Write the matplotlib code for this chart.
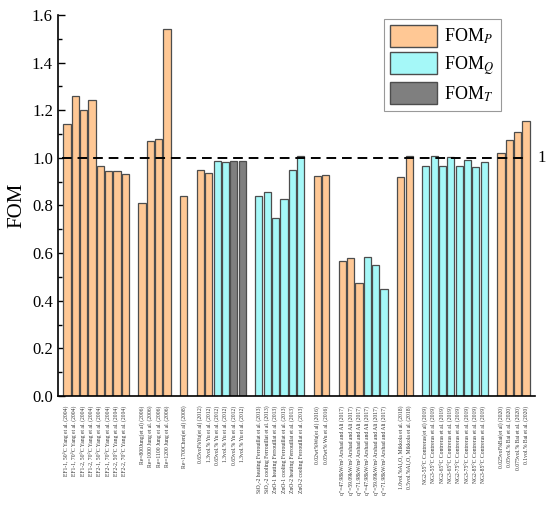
import matplotlib
matplotlib.use("Agg")
import matplotlib.pyplot as plt
from matplotlib.patches import Patch

plt.rcParams['font.family'] = ['Liberation Serif', 'DejaVu Serif']
plt.rcParams['mathtext.fontset'] = 'stix'

# group sizes (bars per study), one empty slot between groups
group_sizes = [8, 4, 1, 6, 6, 2, 6, 2, 8, 4]

labels = [
    "EF1-1, 50°C Yang et al. (2004)", "EF1-1, 70°C Yang et al. (2004)",
    "EF1-2, 50°C Yang et al. (2004)", "EF1-2, 70°C Yang et al. (2004)",
    "EF2-1, 50°C Yang et al. (2004)", "EF2-1, 70°C Yang et al. (2004)",
    "EF2-2, 50°C Yang et al. (2004)", "EF2-2, 70°C Yang et al. (2004)",
    "Re=800Jung(et al) (2006)", "Re=1000 Jung et al. (2006)",
    "Re=1100 Jung et al. (2006)", "Re=1200 Jung et al. (2006)",
    "Re~1700Chen(et al) (2008)",
    "0.65vol%Yu(et al) (2012)", "1.3vol.% Yu et al. (2012)",
    "0.65vol.% Yu et al. (2012)", "1.3vol.% Yu et al. (2012)",
    "0.65vol.% Yu et al. (2012)", "1.3vol.% Yu et al. (2012)",
    "SiO₂-2 heating Ferrouillat et al. (2013)", "SiO₂-2 cooling Ferrouillat et al. (2013)",
    "ZnO-1 heating Ferrouillat et al. (2013)", "ZnO-1 cooling Ferrouillat et al. (2013)",
    "ZnO-2 heating Ferrouillat et al. (2013)", "ZnO-2 cooling Ferrouillat et al. (2013)",
    "0.02wt%Wu(et al) (2016)", "0.05wt% Wu et al. (2016)",
    "q″=47.98kW/m² Arshad and Ali (2017)", "q″=59.09kW/m² Arshad and Ali (2017)",
    "q″=71.98kW/m² Arshad and Ali (2017)", "q″=47.98kW/m² Arshad and Ali (2017)",
    "q″=59.09kW/m² Arshad and Ali (2017)", "q″=71.98kW/m² Arshad and Ali (2017)",
    "1.0vol.%Al₂O₃ Mikkola et al. (2018)", "0.5vol.%Al₂O₃ Mikkola et al. (2018)",
    "NG2-55°C Contreras(et al) (2019)", "NG3-55°C Contreras et al. (2019)",
    "NG2-65°C Contreras et al. (2019)", "NG3-65°C Contreras et al. (2019)",
    "NG2-75°C Contreras et al. (2019)", "NG3-75°C Contreras et al. (2019)",
    "NG2-85°C Contreras et al. (2019)", "NG3-85°C Contreras et al. (2019)",
    "0.025vol%Bai(et al) (2020)", "0.05vol.% Bai et al. (2020)",
    "0.075vol.% Bai et al. (2020)", "0.1vol.% Bai et al. (2020)",
]

fom_values = [
    1.144, 1.26, 1.199, 1.241, 0.965, 0.945, 0.943, 0.930,
    0.81, 1.07, 1.08, 1.54,
    0.841,
    0.947, 0.937, 0.987, 0.981, 0.986, 0.986,
    0.838, 0.855, 0.746, 0.827, 0.947, 1.008,
    0.922, 0.929,
    0.566, 0.580, 0.476, 0.584, 0.549, 0.449,
    0.920, 1.008,
    0.966, 1.007, 0.966, 1.003, 0.965, 0.989, 0.962, 0.983,
    1.020, 1.076, 1.109, 1.153,
]

fom_type = (['P'] * 8 + ['P'] * 4 + ['P'] + ['P', 'P', 'Q', 'Q', 'T', 'T'] + ['Q'] * 6
            + ['P'] * 2 + ['P'] * 3 + ['Q'] * 3 + ['P'] * 2 + ['Q'] * 8 + ['P'] * 4)

colors = {'P': '#FFC895', 'Q': '#A5F8F8', 'T': '#7F7F7F'}
legend_labels = {'P': r'FOM$_P$', 'Q': r'FOM$_Q$', 'T': r'FOM$_T$'}

# bar positions: consecutive slots, one empty slot between groups
xpos = []
slot = 0
for n in group_sizes:
    for k in range(n):
        xpos.append(slot)
        slot += 1
    slot += 1

fig = plt.figure(figsize=(5.5, 5.13), dpi=100)
ax = fig.add_axes([0.105, 0.228, 0.868, 0.743])

ax.bar(xpos, fom_values, width=0.86, color=[colors[t] for t in fom_type],
       edgecolor='#4d4d4d', linewidth=0.9, zorder=2)

ax.axhline(1.0, xmin=0.008, xmax=0.98, color='black', linestyle=(0, (5, 3)),
           linewidth=1.4, zorder=3)
ax.text(56.35, 1.0, '1', va='center', ha='left', fontsize=12)

ax.set_xlim(-1.1, 56.1)
ax.set_ylim(0, 1.6)
ax.set_yticks([0.0, 0.2, 0.4, 0.6, 0.8, 1.0, 1.2, 1.4, 1.6])
ax.set_yticklabels(['0.0', '0.2', '0.4', '0.6', '0.8', '1.0', '1.2', '1.4', '1.6'])
ax.set_yticks([0.1, 0.3, 0.5, 0.7, 0.9, 1.1, 1.3, 1.5], minor=True)
ax.tick_params(axis='y', which='major', direction='in', length=5, width=1, labelsize=12)
ax.tick_params(axis='y', which='minor', direction='in', length=3, width=1)
ax.set_xticks(xpos)
ax.set_xticklabels(labels, rotation=90, fontsize=4.1, color='#333333')
ax.tick_params(axis='x', length=0, pad=7)

ax.spines['top'].set_visible(False)
ax.spines['right'].set_visible(False)
ax.spines['left'].set_linewidth(1.2)
ax.spines['bottom'].set_linewidth(1.2)
ax.set_ylabel('FOM', fontsize=15, labelpad=4)

handles = [Patch(facecolor=colors[t], edgecolor='#4d4d4d', linewidth=1) for t in ['P', 'Q', 'T']]
leg = ax.legend(handles, [legend_labels[t] for t in ['P', 'Q', 'T']], loc='upper right',
                bbox_to_anchor=(0.928, 0.99), fontsize=13, fancybox=False,
                edgecolor='#808080', handlelength=2.6, handleheight=1.5,
                labelspacing=0.3, handletextpad=0.4, borderpad=0.35, borderaxespad=0)
leg.get_frame().set_linewidth(0.8)

fig.savefig('out.png', dpi=100)
